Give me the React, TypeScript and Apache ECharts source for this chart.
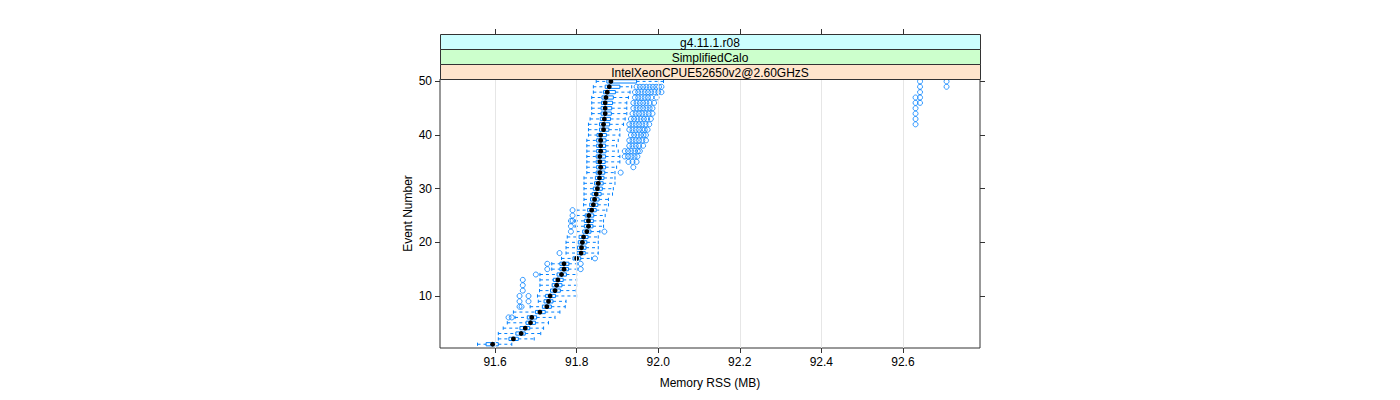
import React, { useEffect, useRef } from "react";
import * as echarts from "echarts";

const events = [
  1, 2, 3, 4, 5, 6, 7, 8, 9, 10, 11, 12, 13, 14, 15, 16, 17, 18, 19, 20, 21, 22, 23, 24, 25,
  26, 27, 28, 29, 30, 31, 32, 33, 34, 35, 36, 37, 38, 39, 40, 41, 42, 43, 44, 45, 46, 47, 48, 49, 50,
];
const whiskerLow = [
  91.557, 91.608, 91.608, 91.62, 91.63, 91.649, 91.645, 91.686, 91.706, 91.704,
  91.709, 91.71, 91.71, 91.71, 91.739, 91.739, 91.763, 91.774, 91.774, 91.774,
  91.777, 91.8, 91.796, 91.796, 91.8, 91.8, 91.817, 91.818, 91.818, 91.818,
  91.818, 91.818, 91.825, 91.825, 91.825, 91.825, 91.825, 91.825, 91.825, 91.829,
  91.829, 91.829, 91.833, 91.837, 91.837, 91.837, 91.837, 91.841, 91.841, 91.848,
];
const q1 = [
  91.578, 91.634, 91.651, 91.661, 91.676, 91.679, 91.699, 91.716, 91.72, 91.724,
  91.736, 91.74, 91.743, 91.752, 91.759, 91.759, 91.791, 91.801, 91.802, 91.804,
  91.806, 91.815, 91.819, 91.819, 91.821, 91.827, 91.832, 91.834, 91.838, 91.841,
  91.844, 91.846, 91.848, 91.849, 91.848, 91.848, 91.849, 91.849, 91.849, 91.85,
  91.856, 91.856, 91.858, 91.86, 91.86, 91.861, 91.862, 91.866, 91.87, 91.874,
];
const median = [
  91.594, 91.645, 91.664, 91.674, 91.687, 91.69, 91.71, 91.727, 91.731, 91.735,
  91.747, 91.751, 91.754, 91.763, 91.769, 91.769, 91.8, 91.811, 91.812, 91.814,
  91.817, 91.825, 91.829, 91.829, 91.83, 91.837, 91.841, 91.844, 91.848, 91.851,
  91.853, 91.856, 91.857, 91.859, 91.857, 91.857, 91.859, 91.859, 91.859, 91.859,
  91.866, 91.866, 91.868, 91.87, 91.87, 91.87, 91.872, 91.875, 91.88, 91.884,
];
const q3 = [
  91.608, 91.657, 91.674, 91.685, 91.699, 91.702, 91.723, 91.738, 91.742, 91.748,
  91.76, 91.764, 91.767, 91.775, 91.78, 91.781, 91.81, 91.821, 91.823, 91.825,
  91.828, 91.835, 91.84, 91.841, 91.842, 91.848, 91.852, 91.855, 91.86, 91.863,
  91.865, 91.867, 91.869, 91.871, 91.87, 91.871, 91.872, 91.871, 91.872, 91.873,
  91.879, 91.881, 91.883, 91.885, 91.886, 91.888, 91.89, 91.895, 91.906, 91.947,
];
const whiskerHigh = [
  91.641, 91.696, 91.712, 91.719, 91.731, 91.747, 91.759, 91.772, 91.774, 91.8,
  91.799, 91.8, 91.8, 91.8, 91.801, 91.801, 91.837, 91.853, 91.853, 91.853,
  91.853, 91.857, 91.866, 91.866, 91.87, 91.874, 91.878, 91.878, 91.888, 91.89,
  91.894, 91.894, 91.894, 91.898, 91.906, 91.906, 91.902, 91.898, 91.902, 91.906,
  91.906, 91.915, 91.919, 91.923, 91.923, 91.923, 91.927, 91.931, 91.935, 92.013,
];
// [event number, memory RSS]
const outliers: [number, number][] = [
  [6, 91.633], [6, 91.641],
  [8, 91.66], [8, 91.665],
  [9, 91.66], [9, 91.682],
  [10, 91.66], [10, 91.682],
  [11, 91.668], [12, 91.668], [13, 91.668], [14, 91.7],
  [15, 91.728], [15, 91.81], [16, 91.728], [16, 91.81],
  [17, 91.845], [18, 91.758],
  [22, 91.786], [22, 91.868], [23, 91.786], [24, 91.786], [24, 91.79],
  [25, 91.79], [26, 91.79],
  [33, 91.908], [34, 91.939],
  [35, 91.927], [35, 91.937], [35, 91.947],
  [36, 91.918], [36, 91.926], [36, 91.934], [36, 91.942], [36, 91.949],
  [37, 91.918], [37, 91.926], [37, 91.934], [37, 91.942], [37, 91.95], [37, 91.955],
  [38, 91.929], [38, 91.937], [38, 91.945], [38, 91.953], [38, 91.963],
  [39, 91.929], [39, 91.937], [39, 91.945], [39, 91.953], [39, 91.961], [39, 91.97],
  [40, 91.933], [40, 91.941], [40, 91.949], [40, 91.957], [40, 91.964], [40, 91.97],
  [41, 91.929], [41, 91.937], [41, 91.945], [41, 91.953], [41, 91.961], [41, 91.967], [41, 91.974],
  [42, 91.929], [42, 91.937], [42, 91.945], [42, 91.953], [42, 91.961], [42, 91.969], [42, 91.978], [42, 92.631],
  [43, 91.933], [43, 91.941], [43, 91.949], [43, 91.957], [43, 91.965], [43, 91.973], [43, 91.982], [43, 92.631],
  [44, 91.937], [44, 91.945], [44, 91.953], [44, 91.961], [44, 91.969], [44, 91.977], [44, 91.986], [44, 92.631],
  [45, 91.939], [45, 91.947], [45, 91.955], [45, 91.963], [45, 91.971], [45, 91.979], [45, 91.986], [45, 92.631],
  [46, 91.939], [46, 91.947], [46, 91.955], [46, 91.963], [46, 91.971], [46, 91.979], [46, 91.99], [46, 92.631], [46, 92.642],
  [47, 91.943], [47, 91.951], [47, 91.959], [47, 91.967], [47, 91.975], [47, 91.983], [47, 91.996], [47, 92.631], [47, 92.642],
  [48, 91.943], [48, 91.951], [48, 91.959], [48, 91.967], [48, 91.975], [48, 91.983], [48, 91.991], [48, 92.0], [48, 92.008], [48, 92.642],
  [49, 91.947], [49, 91.955], [49, 91.963], [49, 91.971], [49, 91.979], [49, 91.987], [49, 91.995], [49, 92.002], [49, 92.008], [49, 92.642], [49, 92.707],
  [50, 92.642], [50, 92.707],
];
const xTicks = [91.6, 91.8, 92.0, 92.2, 92.4, 92.6];
const yTicks = [10, 20, 30, 40, 50];
const stripLabels = ["g4.11.1.r08", "SimplifiedCalo", "IntelXeonCPUE52650v2@2.60GHzS"];
const stripColors = ["#ccffff", "#ccffcc", "#ffe5cc"];

const FONT = "'Liberation Sans', Arial, Helvetica, sans-serif";
const BLUE = "#0080ff";
const X_MIN = 91.465;
const X_MAX = 92.789;
const Y_MIN = 0.3;
const Y_MAX = 50.45;

export default function App() {
  const ref = useRef<HTMLDivElement>(null);
  useEffect(() => {
    document.body.style.margin = "0";
    if (!ref.current) return;
    const chart = echarts.init(ref.current, undefined, { renderer: "svg" });
    const gridLeft = 440;
    const gridTop = 79;
    const gridWidth = 540;
    const stripH = 15;
    const stripTop = gridTop - stripH * stripLabels.length;
    const graphics: any[] = [];
    stripLabels.forEach((lab, i) => {
      graphics.push({
        type: "rect",
        shape: { x: gridLeft + 0.5, y: stripTop + stripH * i + 0.5, width: gridWidth, height: stripH },
        style: { fill: stripColors[i], stroke: "#333", lineWidth: 1 },
        z: 10,
      });
      graphics.push({
        type: "text",
        x: gridLeft + gridWidth / 2,
        y: stripTop + stripH * i + stripH / 2 + 1,
        style: {
          text: lab,
          font: `12px ${FONT}`,
          fill: "#000",
          textAlign: "center",
          textVerticalAlign: "middle",
        },
        z: 11,
      });
    });

    const boxData = events.map((e, i) => [e, whiskerLow[i], q1[i], median[i], q3[i], whiskerHigh[i]]);

    chart.setOption({
      animation: false,
      backgroundColor: "#fff",
      grid: {
        left: gridLeft,
        top: gridTop,
        width: gridWidth,
        height: 269,
        show: true,
        borderColor: "#333",
        borderWidth: 1,
        backgroundColor: "transparent",
      },
      xAxis: [
        {
          type: "value",
          min: X_MIN,
          max: X_MAX,
          position: "bottom",
          axisLine: { show: false },
          splitLine: { show: false },
          axisTick: { show: true, customValues: xTicks, length: 5, lineStyle: { color: "#333" } },
          axisLabel: {
            customValues: xTicks,
            formatter: (v: number) => v.toFixed(1),
            fontSize: 12,
            fontFamily: FONT,
            color: "#000",
            margin: 8,
          },
          name: "Memory RSS (MB)",
          nameLocation: "middle",
          nameGap: 29,
          nameTextStyle: { fontSize: 12, fontFamily: FONT, color: "#000" },
        },
        {
          type: "value",
          min: X_MIN,
          max: X_MAX,
          position: "top",
          offset: stripH * stripLabels.length,
          axisLine: { show: false },
          splitLine: { show: false },
          axisTick: { show: true, customValues: xTicks, length: 5, lineStyle: { color: "#333" } },
          axisLabel: { show: false },
        },
      ],
      yAxis: [
        {
          type: "value",
          min: Y_MIN,
          max: Y_MAX,
          position: "left",
          axisLine: { show: false },
          splitLine: { show: false },
          axisTick: { show: true, customValues: yTicks, length: 5, lineStyle: { color: "#333" } },
          axisLabel: {
            customValues: yTicks,
            fontSize: 12,
            fontFamily: FONT,
            color: "#000",
            margin: 8,
          },
          name: "Event Number",
          nameLocation: "middle",
          nameGap: 26,
          nameRotate: 90,
          nameTextStyle: { fontSize: 12, fontFamily: FONT, color: "#000" },
        },
        {
          type: "value",
          min: Y_MIN,
          max: Y_MAX,
          position: "right",
          axisLine: { show: false },
          splitLine: { show: false },
          axisTick: { show: true, customValues: yTicks, length: 5, lineStyle: { color: "#333" } },
          axisLabel: { show: false },
        },
      ],
      graphic: graphics,
      series: [
        {
          type: "scatter",
          name: "grid",
          data: [],
          z: 1,
          silent: true,
          markLine: {
            silent: true,
            symbol: "none",
            label: { show: false },
            lineStyle: { color: "#e6e6e6", type: "solid", width: 1 },
            data: xTicks.map((v) => ({ xAxis: v })),
          },
        },
        {
          type: "custom",
          name: "box",
          z: 2,
          data: boxData,
          encode: { x: [1, 2, 3, 4, 5], y: 0 },
          renderItem: (params: any, api: any) => {
            const ev = api.value(0);
            const lo = api.coord([api.value(1), ev]);
            const b1 = api.coord([api.value(2), ev]);
            const md = api.coord([api.value(3), ev]);
            const b3 = api.coord([api.value(4), ev]);
            const hi = api.coord([api.value(5), ev]);
            const unit = api.size([0, 1])[1];
            const hh = unit * 0.3;
            const y = md[1];
            return {
              type: "group",
              children: [
                { type: "line", shape: { x1: lo[0], y1: y, x2: b1[0], y2: y }, style: { stroke: BLUE, lineWidth: 1, lineDash: [3, 3] } },
                { type: "line", shape: { x1: b3[0], y1: y, x2: hi[0], y2: y }, style: { stroke: BLUE, lineWidth: 1, lineDash: [3, 3] } },
                { type: "line", shape: { x1: lo[0], y1: y - hh, x2: lo[0], y2: y + hh }, style: { stroke: BLUE, lineWidth: 1 } },
                { type: "line", shape: { x1: hi[0], y1: y - hh, x2: hi[0], y2: y + hh }, style: { stroke: BLUE, lineWidth: 1 } },
                { type: "rect", shape: { x: b1[0], y: y - hh, width: b3[0] - b1[0], height: 2 * hh }, style: { fill: "none", stroke: BLUE, lineWidth: 1 } },
                { type: "circle", shape: { cx: md[0], cy: y, r: 2.4 }, style: { fill: "#000" } },
              ],
            };
          },
        },
        {
          type: "scatter",
          name: "outliers",
          z: 3,
          data: outliers.map(([e, v]) => [v, e]),
          symbol: "circle",
          symbolSize: 5,
          itemStyle: { color: "rgba(0,0,0,0)", borderColor: BLUE, borderWidth: 1 },
        },
      ],
    });
    return () => chart.dispose();
  }, []);
  return <div ref={ref} style={{ width: 1400, height: 400 }} />;
}
